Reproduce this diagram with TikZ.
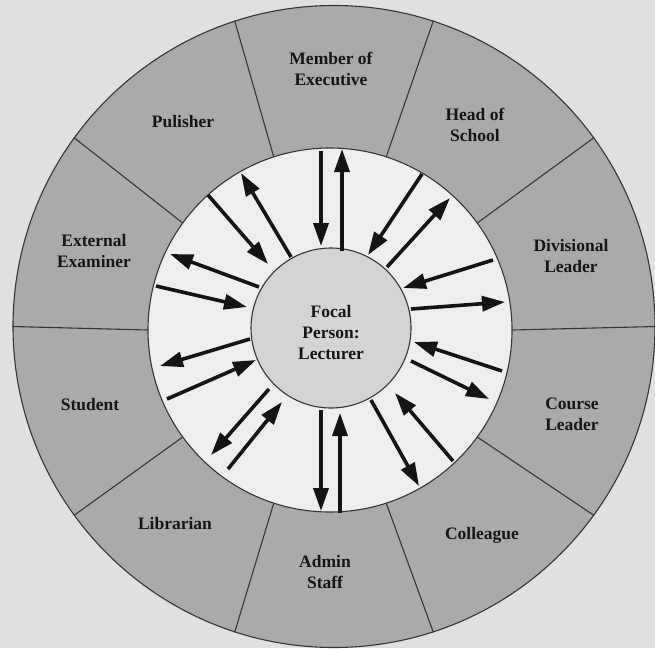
\documentclass[tikz,border=0pt]{standalone}
\usepackage{fontspec}
\setmainfont{Liberation Serif}
\usetikzlibrary{arrows.meta}
\definecolor{bgc}{HTML}{E0E0E0}
\definecolor{ringc}{HTML}{AAAAAA}
\definecolor{whitec}{HTML}{EEEEEE}
\definecolor{focalc}{HTML}{D4D4D4}
\definecolor{linec}{HTML}{353535}
\definecolor{txtc}{HTML}{151515}
\begin{document}
\begin{tikzpicture}[x=1pt,y=-1pt,
  lbl/.style={font=\bfseries\fontsize{17.5}{21}\selectfont, align=center, text=txtc, inner sep=0pt},
  rolearrow/.style={line width=3.6pt, draw=black!92, -{Triangle[length=23pt,width=15pt]}},
  divider/.style={line width=1.1pt, draw=linec},
  disc/.style={circle, draw=linec, line width=1.1pt, inner sep=0pt}]
\useasboundingbox (0,0) rectangle (655,648);
\fill[bgc] (0,0) rectangle (655,648);
% rings
\node[disc, fill=ringc, minimum size=642pt] (outer) at (334,326.5) {};
\node[disc, fill=whitec, minimum size=364pt] (ring) at (330,330) {};
\foreach \a in {0,36,...,324} \draw[divider] (ring.\a) -- (outer.\a);
\node[disc, fill=focalc, minimum size=160pt] (focal) at (331,328) {};
\node[lbl] (focaltxt) at (331,333) {Focal\\Person:\\Lecturer};
% role labels
\node[lbl] (exec)  at (331,69)  {Member of\\Executive};
\node[lbl] (head)  at (475,125) {Head of\\School};
\node[lbl] (div)   at (571,256) {Divisional\\Leader};
\node[lbl] (course)at (572,414) {Course\\Leader};
\node[lbl] (coll)  at (482,535) {Colleague};
\node[lbl] (admin) at (325,572) {Admin\\Staff};
\node[lbl] (lib)   at (175,524) {Librarian};
\node[lbl] (stud)  at (90,405)  {Student};
\node[lbl] (ext)   at (94,251)  {External\\Examiner};
\node[lbl] (pub)   at (183,122) {Pulisher};
% arrows
\foreach \i/\ax/\ay/\bx/\by in {
  1/321/151/321/246, 2/342/251/342/149,
  3/422/174/368/255, 4/387/267/450/198,
  5/493/260/403/288, 6/411/309/505/302,
  7/502/371/414/342, 8/411/361/489/399,
  9/371/400/419/486, 10/453/461/395/393,
  11/321/410/321/511, 12/340/513/340/413,
  13/269/389/211/455, 14/228/469/282/402,
  15/250/339/160/366, 16/167/399/256/360,
  17/259/287/170/254, 18/156/286/247/307,
  19/208/195/268/264, 20/291/257/241/173}{
  \coordinate (s\i) at (\ax,\ay);
  \coordinate (t\i) at (\bx,\by);
  \draw[rolearrow] (s\i) -- (t\i);
}
\end{tikzpicture}
\end{document}
